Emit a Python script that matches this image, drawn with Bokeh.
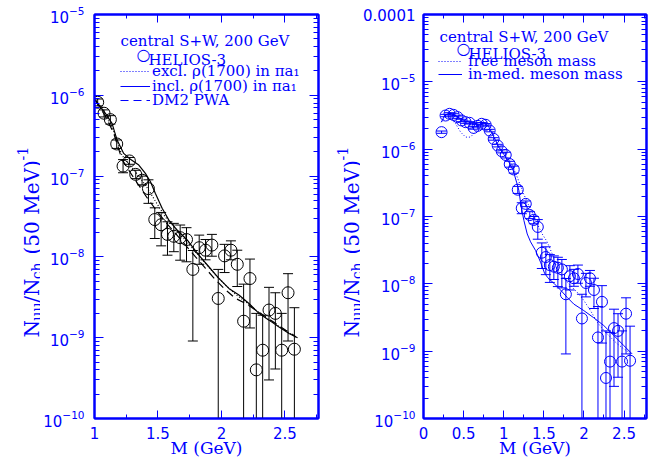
import math
from bokeh.plotting import figure
from bokeh.layouts import row
from bokeh.models import (Range1d, FixedTicker, LinearAxis, LogAxis, LogTickFormatter,
                          CustomJSTickFormatter, Label, Legend, LegendItem)
from bokeh.embed import file_html
from bokeh.resources import INLINE

BLUE = "#0000ff"
SERIF = "DejaVu Serif"
SANS = "DejaVu Sans"

# ---------------- data: HELIOS-3 central S+W, 200 GeV ----------------
# high-mass bins (both panels)
mass_hi = [1.025, 1.075, 1.125, 1.175, 1.225, 1.275, 1.325, 1.375, 1.425, 1.475,
           1.525, 1.575, 1.625, 1.675, 1.725, 1.775, 1.825, 1.875, 1.925, 1.975,
           2.025, 2.075, 2.125, 2.175, 2.225, 2.275, 2.325, 2.375, 2.425, 2.475,
           2.525, 2.575]
yield_hi = [8.2e-7, 6.0e-7, 5.0e-7, 2.5e-7, 1.33e-7, 1.54e-7, 1.05e-7, 8.9e-8, 7.0e-8, 2.9e-8,
            2.5e-8, 1.9e-8, 1.8e-8, 1.73e-8, 1.64e-8, 7.0e-9, 1.30e-8, 1.21e-8, 1.40e-8, 3.06e-9,
            1.03e-8, 1.21e-8, 8.1e-9, 1.6e-9, 5.4e-9, 4.0e-10, 7.0e-10, 2.2e-9, 2.0e-9, 7.0e-10,
            3.6e-9, 7.2e-10]
upper_hi = [9.0e-7, 6.6e-7, 5.6e-7, 2.8e-7, 1.6e-7, 1.7e-7, 1.18e-7, 1.0e-7, 9.0e-8, 4.05e-8,
            3.55e-8, 2.72e-8, 2.6e-8, 2.48e-8, 2.3e-8, 1.2e-8, 1.86e-8, 1.64e-8, 1.9e-8, 7.0e-9,
            1.43e-8, 1.58e-8, 1.21e-8, 4.6e-9, 9.4e-9, 2.0e-9, 1.9e-9, 4.2e-9, 3.6e-9, 2.0e-9,
            6.2e-9, 2.35e-9]
# 0 = error bar reaches zero (below the axis)
lower_hi = [7.4e-7, 5.4e-7, 4.4e-7, 2.2e-7, 1.1e-7, 1.4e-7, 9.3e-8, 7.8e-8, 4.6e-8, 1.69e-8,
            1.37e-8, 1.05e-8, 1.16e-8, 9.1e-9, 8.7e-9, 9.1e-10, 8.1e-9, 9.2e-9, 1.02e-8, 0,
            6.4e-9, 9.2e-9, 4.3e-9, 0, 1.32e-9, 0, 0, 3.0e-10, 4.1e-10, 0,
            9.1e-10, 0]

# low-mass bins (right panel only)
mass_lo = [0.225, 0.275, 0.325, 0.375, 0.425, 0.475, 0.525, 0.575, 0.625, 0.675,
           0.725, 0.775, 0.825, 0.875, 0.925, 0.975]
yield_lo = [1.79e-6, 3.16e-6, 3.35e-6, 3.23e-6, 2.99e-6, 2.67e-6, 2.52e-6, 2.46e-6, 2.07e-6, 2.22e-6,
            2.38e-6, 2.3e-6, 1.89e-6, 1.42e-6, 1.13e-6, 9.3e-7]
upper_lo = [1.86e-6, 3.29e-6, 3.48e-6, 3.36e-6, 3.11e-6, 2.78e-6, 2.62e-6, 2.56e-6, 2.16e-6, 2.31e-6,
            2.48e-6, 2.40e-6, 1.97e-6, 1.48e-6, 1.18e-6, 9.8e-7]
lower_lo = [1.72e-6, 3.03e-6, 3.22e-6, 3.10e-6, 2.87e-6, 2.56e-6, 2.42e-6, 2.36e-6, 1.98e-6, 2.13e-6,
            2.28e-6, 2.20e-6, 1.81e-6, 1.36e-6, 1.08e-6, 8.8e-7]

# left panel model curves
incl_m = [1.007, 1.086, 1.138, 1.178, 1.23, 1.283, 1.349, 1.401, 1.441, 1.48, 1.533, 1.586, 1.651,
          1.73, 1.822, 1.901, 1.98, 2.059, 2.138, 2.217, 2.296, 2.375, 2.454, 2.533, 2.6]
incl_y = [8.7e-7, 5.97e-7, 4.49e-7, 2.79e-7, 1.91e-7, 1.62e-7, 1.37e-7, 1.08e-7, 8.5e-8, 6.1e-8,
          4.0e-8, 2.85e-8, 2.15e-8, 1.62e-8, 1.05e-8, 7.55e-9, 5.42e-9, 4.07e-9, 3.37e-9, 2.65e-9,
          2.0e-9, 1.65e-9, 1.36e-9, 1.13e-9, 1.0e-9]
pwa_m = [1.007, 1.086, 1.151, 1.217, 1.283, 1.349, 1.414, 1.48, 1.559, 1.638, 1.717, 1.796, 1.875,
         1.954, 2.033, 2.112, 2.191, 2.27, 2.349, 2.428, 2.507, 2.586]
excl_y = [8.7e-7, 5.7e-7, 3.6e-7, 1.8e-7, 1.35e-7, 1.0e-7, 7.2e-8, 4.9e-8, 3.1e-8, 2.25e-8, 1.61e-8,
          1.16e-8, 8.3e-9, 5.96e-9, 4.48e-9, 3.43e-9, 2.79e-9, 2.2e-9, 1.78e-9, 1.47e-9, 1.22e-9, 1.02e-9]
pwa_y = [8.7e-7, 5.5e-7, 3.4e-7, 1.6e-7, 1.1e-7, 7.7e-8, 5.4e-8, 3.9e-8, 2.7e-8, 1.95e-8, 1.4e-8,
         1.0e-8, 7.2e-9, 5.2e-9, 3.9e-9, 3.06e-9, 2.65e-9, 2.2e-9, 1.82e-9, 1.5e-9, 1.24e-9, 1.03e-9]

# right panel model curves
med_m = [0.222, 0.264, 0.318, 0.380, 0.442, 0.504, 0.567, 0.629, 0.691, 0.753, 0.816, 0.878, 0.940,
         1.003, 1.065, 1.119, 1.160, 1.189, 1.218, 1.252, 1.293, 1.335, 1.397, 1.459, 1.509, 1.550,
         1.625, 1.708, 1.791, 1.874, 1.999, 2.123, 2.248, 2.372, 2.497, 2.601]
med_y = [2.52e-6, 3.16e-6, 3.42e-6, 3.27e-6, 2.92e-6, 2.67e-6, 2.52e-6, 2.38e-6, 2.46e-6, 2.52e-6,
         2.12e-6, 1.51e-6, 1.07e-6, 8.3e-7, 6.4e-7, 4.8e-7, 3.24e-7, 2.43e-7, 1.38e-7, 8.7e-8,
         5.5e-8, 4.2e-8, 3.13e-8, 2.1e-8, 1.44e-8, 1.23e-8, 1.02e-8, 8.1e-9, 6.3e-9, 5.0e-9,
         4.0e-9, 3.13e-9, 2.4e-9, 1.71e-9, 1.21e-9, 9.1e-10]
free_m = [0.222, 0.276, 0.338, 0.401, 0.463, 0.525, 0.587, 0.650, 0.712, 0.774, 0.836, 0.899, 0.961,
          1.044, 1.106, 1.169, 1.231, 1.293, 1.355, 1.418, 1.480, 1.542, 1.604, 1.667, 1.750, 1.833,
          1.916, 1.999, 2.082, 2.165, 2.248, 2.331, 2.414, 2.497, 2.601]
free_y = [2.52e-6, 2.99e-6, 2.82e-6, 2.38e-6, 1.79e-6, 1.51e-6, 1.51e-6, 1.85e-6, 2.38e-6, 2.73e-6,
          2.12e-6, 1.35e-6, 9.8e-7, 7.6e-7, 5.7e-7, 3.84e-7, 2.43e-7, 1.63e-7, 1.16e-7, 7.8e-8,
          5.5e-8, 4.2e-8, 2.79e-8, 1.67e-8, 1.19e-8, 9.4e-9, 7.5e-9, 5.66e-9, 4.0e-9, 2.7e-9,
          2.03e-9, 1.61e-9, 1.29e-9, 1.08e-9, 9.1e-10]

x_major_left = [1, 1.5, 2, 2.5]
x_minor_left = [1.25, 1.75, 2.25, 2.75]
x_major_right = [0, 0.5, 1, 1.5, 2, 2.5]
x_minor_right = [0.25, 0.75, 1.25, 1.75, 2.25, 2.75]

# approx. advance widths (em) of DejaVu Serif, for chaining the y-label pieces
WID = {' ': 0.318, '(': 0.390, ')': 0.390, '/': 0.337, '0': 0.636, '1': 0.636, '5': 0.636,
       'M': 0.95, 'N': 0.84, 'V': 0.74, 'c': 0.56, 'e': 0.59, 'h': 0.64, 'μ': 0.64, '-': 0.34}

HEIGHT = 460


def decade_ticks(lo, hi):
    major = [10.0 ** e for e in range(lo, hi + 1)]
    minor = [k * 10.0 ** e for e in range(lo, hi) for k in range(2, 10)]
    return major, minor


def make_fig(width, mbl, mbr, xr, yr, xmaj, xmin, ydec, yfmt, ystand):
    p = figure(width=width, height=HEIGHT, x_range=Range1d(*xr), y_range=Range1d(*yr),
               y_axis_type="log", output_backend="svg", toolbar_location=None,
               min_border_left=mbl, min_border_right=mbr, min_border_top=14,
               min_border_bottom=HEIGHT - 14 - 404)
    p.grid.visible = False
    p.outline_line_color = BLUE
    p.outline_line_width = 2
    p.background_fill_color = "white"
    p.border_fill_color = "white"
    ymaj, ymin = decade_ticks(*ydec)
    xt = FixedTicker(ticks=xmaj, minor_ticks=xmin)
    yt = FixedTicker(ticks=ymaj, minor_ticks=ymin)
    blank = CustomJSTickFormatter(code="return ''")
    top = LinearAxis(ticker=xt, formatter=blank)
    right = LogAxis(ticker=yt, formatter=blank)
    p.add_layout(top, "above")
    p.add_layout(right, "right")
    bx = p.below[0]
    ly = p.left[0]
    bx.ticker = xt
    ly.ticker = yt
    ly.formatter = yfmt
    for ax in (bx, top):
        ax.major_tick_in, ax.major_tick_out = 8, 0
        ax.minor_tick_in, ax.minor_tick_out = 4, 0
    for ax in (ly, right):
        ax.major_tick_in, ax.major_tick_out = 9, 0
        ax.minor_tick_in, ax.minor_tick_out = 5, 0
    for ax in (bx, top, ly, right):
        ax.axis_line_color = BLUE
        ax.axis_line_width = 2
        ax.major_tick_line_color = BLUE
        ax.minor_tick_line_color = BLUE
        ax.major_tick_line_width = 1
        ax.minor_tick_line_width = 1
        ax.major_label_text_color = BLUE
        ax.major_label_text_font = SANS
        ax.major_label_text_font_size = "15px"
    bx.major_label_standoff = 8
    ly.major_label_standoff = ystand
    bx.axis_label = "M (GeV)"
    bx.axis_label_text_font = SERIF
    bx.axis_label_text_font_size = "17px"
    bx.axis_label_text_font_style = "normal"
    bx.axis_label_text_color = BLUE
    bx.axis_label_standoff = -4
    for ax in (top, right):
        ax.major_label_text_font_size = "1px"
        ax.major_label_standoff = 0
    return p


def label_strip(width):
    s = figure(width=width, height=HEIGHT, x_range=Range1d(0, 1), y_range=Range1d(0, 1),
               output_backend="svg", toolbar_location=None, x_axis_location=None,
               y_axis_location=None, min_border=0, min_border_left=0, min_border_right=0,
               min_border_top=0, min_border_bottom=0)
    s.grid.visible = False
    s.outline_line_color = None
    return s


def add_ylabel(p, xb, y0):
    # (text, font size, baseline shift, extra gap after) ; rotated, reading upwards
    pieces = [("N", 20, 0, 0), ("μμ", 14, 5, 0), ("/N", 20, 0, 0), ("ch", 14, 5, 8),
              ("(50 MeV)", 20, 0, 1), ("-1", 14, -9, 0)]
    y = y0
    for txt, fs, dx, gap in pieces:
        p.add_layout(Label(x=xb + dx, y=y, x_units="canvas", y_units="canvas", text=txt,
                           angle=math.pi / 2, text_font=SERIF, text_font_size=f"{fs}px",
                           text_color=BLUE, text_align="left", text_baseline="alphabetic"))
        y -= sum(WID[c] for c in txt) * fs + gap


def add_text(p, x, y, txt, size=15, font=SERIF, align="left", baseline="alphabetic"):
    p.add_layout(Label(x=x, y=y, x_units="canvas", y_units="canvas", text=txt,
                       text_font=font, text_font_size=f"{size}px", text_color=BLUE,
                       text_align=align, text_baseline=baseline))


def line_legend(p, renderer, label, vx, vy, gw, standoff):
    leg = Legend(items=[LegendItem(label=label, renderers=[renderer])], location=(vx, vy),
                 padding=0, margin=0, spacing=0, glyph_width=gw, glyph_height=20,
                 label_height=20, label_standoff=standoff, border_line_color=None,
                 background_fill_alpha=0, label_text_font=SERIF, label_text_font_size="15px",
                 label_text_color=BLUE)
    p.add_layout(leg)


def draw_data(p, m, y, up, lo, color, size):
    lo_draw = [v if v > 0 else 1e-12 for v in lo]
    p.segment(x0=m, y0=lo_draw, x1=m, y1=up, line_color=color, line_width=1)
    cap_x = list(m) + [mm for mm, v in zip(m, lo) if v > 0]
    cap_y = list(up) + [v for v in lo if v > 0]
    p.scatter(x=cap_x, y=cap_y, marker="dash", size=10, line_color=color, line_width=1)
    p.scatter(x=m, y=y, marker="circle", size=size, fill_color=None, line_color=color, line_width=1)


# layout (page x): strip1 0-40 | p1 40-324 (frame 94-318) | strip2 324-360 | p2 360-652 (frame 423-646)
strip1 = label_strip(40)
strip2 = label_strip(36)

# ---------------- left panel ----------------
p1 = make_fig(284, 54, 6, (1.0, 2.765), (1e-10, 1e-5), x_major_left, x_minor_left, (-10, -5),
              LogTickFormatter(), 10)
p1.line(pwa_m, excl_y, line_color="black", line_width=1.2, line_dash="1 2")
p1.line(incl_m, incl_y, line_color="black", line_width=1.2)
p1.line(pwa_m, pwa_y, line_color="black", line_width=1.2, line_dash="8 5")
draw_data(p1, mass_hi, yield_hi, upper_hi, lower_hi, "black", 12)

add_text(p1, 80, 40, "central S+W, 200 GeV")
add_text(p1, 103, 54, "○", size=16, font=SANS, align="center", baseline="middle")
add_text(p1, 108, 59, "HELIOS-3")
# legend proxies (hidden, blue samples as in the original key)
d1 = p1.line(pwa_m, excl_y, line_color=BLUE, line_dash="1 2", visible=False)
s1 = p1.line(incl_m, incl_y, line_color=BLUE, visible=False)
k1 = p1.line(pwa_m, pwa_y, line_color=BLUE, line_dash="8 5", visible=False)
line_legend(p1, d1, "excl. ρ(1700) in πa₁", 26, 337, 30, 2)
line_legend(p1, s1, "incl. ρ(1700) in πa₁", 26, 322, 30, 2)
line_legend(p1, k1, "DM2 PWA", 26, 308, 30, 2)
add_ylabel(strip1, 31, 337)

# ---------------- right panel ----------------
p2 = make_fig(292, 63, 6, (0.0, 2.78), (1e-10, 1e-4), x_major_right, x_minor_right, (-10, -4),
              LogTickFormatter(min_exponent=5), 8)
p2.line(free_m, free_y, line_color=BLUE, line_width=1, line_dash="1 2")
p2.line(med_m, med_y, line_color=BLUE, line_width=1)
draw_data(p2, mass_lo + mass_hi, yield_lo + yield_hi, upper_lo + upper_hi, lower_lo + lower_hi,
          BLUE, 11)

add_text(p2, 79, 36, "central S+W, 200 GeV")
add_text(p2, 103, 48, "○", size=16, font=SANS, align="center", baseline="middle")
add_text(p2, 108, 53, "HELIOS-3")
d2 = p2.line(free_m, free_y, line_color=BLUE, line_dash="1 2", visible=False)
s2 = p2.line(med_m, med_y, line_color=BLUE, visible=False)
line_legend(p2, d2, "free meson mass", 15, 347, 24, 6)
line_legend(p2, s2, "in-med. meson mass", 15, 334, 24, 6)
add_ylabel(strip2, 27, 337)

layout = row(strip1, p1, strip2, p2)
open("out.html", "w").write(file_html(layout, INLINE))
